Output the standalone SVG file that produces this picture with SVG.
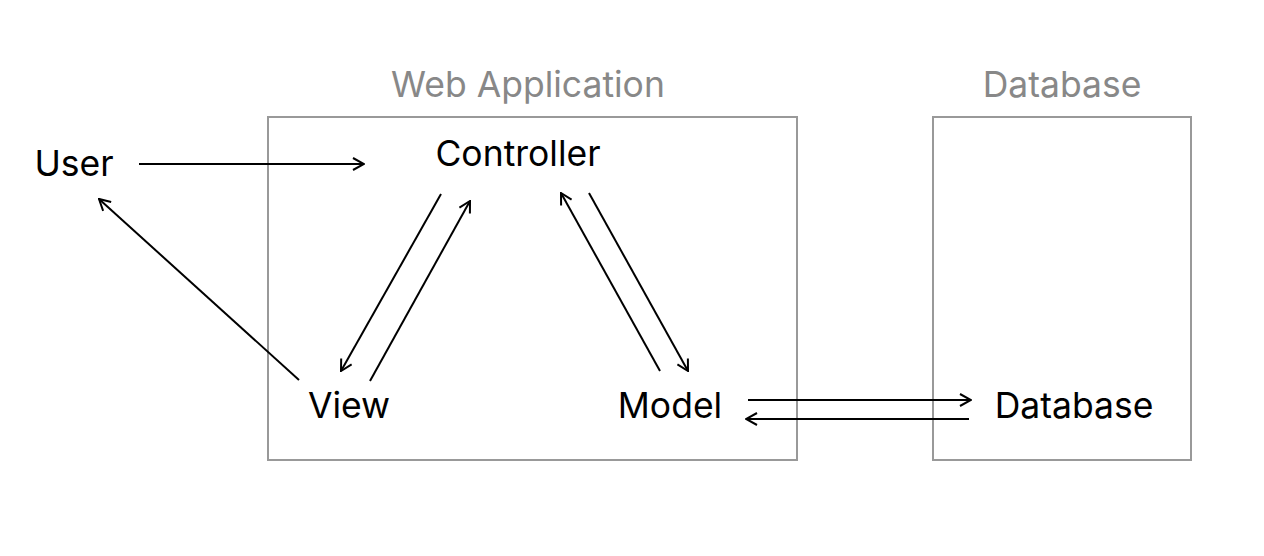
<svg xmlns="http://www.w3.org/2000/svg" width="1264" height="556" viewBox="0 0 1264 556">
<defs>
<style>
.box{fill:none;stroke:#999;stroke-width:2}
.title{font-family:Inter,"Noto Sans",sans-serif;font-size:35.5px;fill:#888}
.lbl{font-family:Inter,"Noto Sans",sans-serif;font-size:35.5px;fill:#000}
.edge{stroke:#000;stroke-width:2;fill:none;marker-end:url(#arr)}
</style>
<marker id="arr" viewBox="0 0 14 14" refX="13" refY="7" markerWidth="14" markerHeight="14" markerUnits="userSpaceOnUse" orient="auto">
<path d="M2,1 L13,7 L2,13" fill="none" stroke="#000" stroke-width="2"/>
</marker>
</defs>
<rect width="1264" height="556" fill="#fff"/>
<g id="webapp">
<rect class="box" x="268" y="117" width="529" height="343"/>
<text class="title" x="528" y="97" text-anchor="middle">Web Application</text>
</g>
<g id="dbcontainer">
<rect class="box" x="933" y="117" width="258" height="343"/>
<text class="title" x="1062" y="97" text-anchor="middle">Database</text>
</g>
<g id="user"><text class="lbl" x="74" y="176" text-anchor="middle">User</text></g>
<g id="controller"><text class="lbl" x="518" y="166" text-anchor="middle">Controller</text></g>
<g id="view"><text class="lbl" x="349" y="418" text-anchor="middle">View</text></g>
<g id="model"><text class="lbl" x="670" y="418" text-anchor="middle">Model</text></g>
<g id="database"><text class="lbl" x="1074" y="418" text-anchor="middle">Database</text></g>
<g id="connectors">
<line class="edge" x1="139" y1="164" x2="364" y2="164"/>
<line class="edge" x1="299" y1="380" x2="99" y2="199"/>
<line class="edge" x1="441" y1="194" x2="341" y2="371"/>
<line class="edge" x1="370" y1="381" x2="470" y2="201"/>
<line class="edge" x1="660" y1="371" x2="561" y2="193"/>
<line class="edge" x1="589" y1="193" x2="688" y2="371"/>
<line class="edge" x1="748" y1="400" x2="971" y2="400"/>
<line class="edge" x1="969" y1="419" x2="746" y2="419"/>
</g>
</svg>
